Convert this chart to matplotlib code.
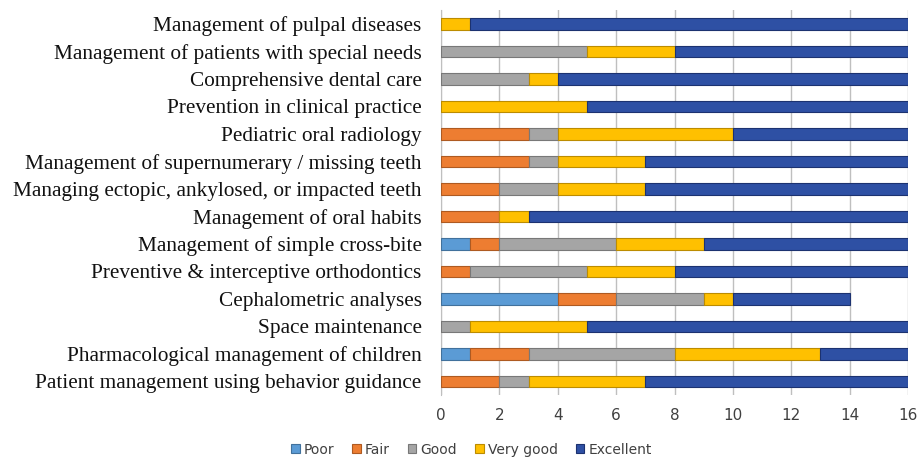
import matplotlib.pyplot as plt
import numpy as np

categories = [
    'Management of pulpal diseases',
    'Management of patients with special needs',
    'Comprehensive dental care',
    'Prevention in clinical practice',
    'Pediatric oral radiology',
    'Management of supernumerary / missing teeth',
    'Managing ectopic, ankylosed, or impacted teeth',
    'Management of oral habits',
    'Management of simple cross-bite',
    'Preventive & interceptive orthodontics',
    'Cephalometric analyses',
    'Space maintenance',
    'Pharmacological management of children',
    'Patient management using behavior guidance',
]
poor = [0, 0, 0, 0, 0, 0, 0, 0, 1, 0, 4, 0, 1, 0]
fair = [0, 0, 0, 0, 3, 3, 2, 2, 1, 1, 2, 0, 2, 2]
good = [0, 5, 3, 0, 1, 1, 2, 0, 4, 4, 3, 1, 5, 1]
very_good = [1, 3, 1, 5, 6, 3, 3, 1, 3, 3, 1, 4, 5, 4]
excellent = [15, 8, 12, 11, 6, 9, 9, 13, 7, 8, 4, 11, 3, 9]

series = [
    ('Poor', poor, '#5B9BD5', '#41719C'),
    ('Fair', fair, '#ED7D31', '#AE5A21'),
    ('Good', good, '#A5A5A5', '#787878'),
    ('Very good', very_good, '#FFC000', '#BC8C00'),
    ('Excellent', excellent, '#2E50A4', '#1C3270'),
]

fig = plt.figure(figsize=(9.19, 4.59), dpi=100)
ax = fig.add_axes([0.48, 0.139, 0.508, 0.839])

y = np.arange(len(categories))
left = np.zeros(len(categories))
for name, vals, color, edge in series:
    vals = np.array(vals, dtype=float)
    ax.barh(y, vals, left=left, height=0.42, color=color, edgecolor=edge,
            linewidth=0.8, label=name, zorder=3)
    left += vals

ax.set_ylim(len(categories) - 0.5, -0.5)
ax.set_xlim(0, 16)
ax.set_xticks(range(0, 17, 2))
ax.set_yticks(y)
ax.set_yticklabels(categories, fontfamily='Liberation Serif', fontsize=15.3, color='#111111')
ax.tick_params(axis='x', length=0, labelsize=11, colors='#404040', pad=9)
ax.tick_params(axis='y', length=0, pad=14)
ax.grid(axis='x', color='#BFBFBF', linewidth=1, zorder=0)
for s in ['top', 'right', 'bottom']:
    ax.spines[s].set_visible(False)
ax.spines['left'].set_color('#BFBFBF')

fig.legend(loc='lower center', bbox_to_anchor=(0.513, -0.022), ncol=5, frameon=False,
           fontsize=10, handlelength=0.6, handleheight=0.6, handletextpad=0.3,
           columnspacing=1.3, labelcolor='#404040')

fig.savefig('out.png', dpi=100)
